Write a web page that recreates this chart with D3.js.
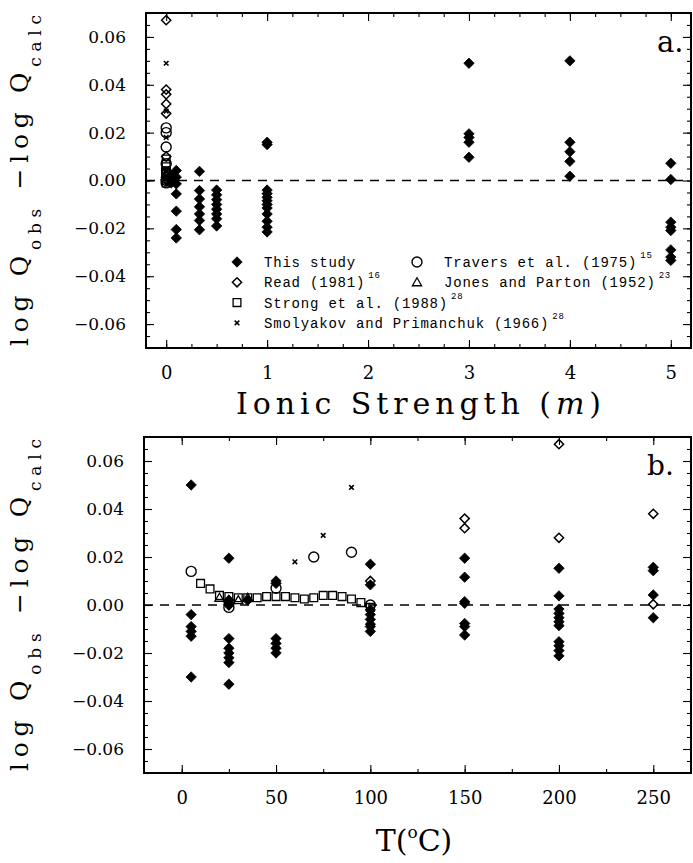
<!DOCTYPE html>
<html>
<head>
<meta charset="utf-8">
<script src="https://cdn.jsdelivr.net/npm/d3@7"></script>
<style>
  body { margin: 0; background: #fff; }
  text { fill: #000; }
</style>
</head>
<body>
<svg id="svgChart" width="693" height="863"></svg>
<script>
/*** Data ***/

// This study, panel a: ionic strength levels (m) and their residuals
const ionicLevels = [0.05, 0.1, 0.33, 0.5, 1, 3, 4, 5];
const ionicResiduals = [
  [0.002, 0.0, -0.001],
  [0.0042, 0.0014, -0.0014, -0.0056, -0.0128, -0.0205, -0.024],
  [0.0038, -0.0042, -0.0077, -0.011, -0.014, -0.0167, -0.0206],
  [-0.004, -0.006, -0.008, -0.010, -0.012, -0.014, -0.016, -0.019],
  [0.016, 0.015, -0.004, -0.0055, -0.007, -0.0085, -0.010, -0.0115, -0.014, -0.017, -0.0195, -0.0215],
  [0.049, 0.0195, 0.018, 0.016, 0.0097],
  [0.050, 0.016, 0.012, 0.008, 0.0018],
  [0.0072, 0.0004, -0.0174, -0.0195, -0.0209, -0.029, -0.032, -0.0334]
];

// This study, panel b: temperatures (C) and their residuals
const tempLevels = [5, 25, 35, 50, 100, 150, 200, 250];
const tempResiduals = [
  [0.050, -0.004, -0.009, -0.011, -0.013, -0.030],
  [0.0195, 0.002, 0.001, 0.0, -0.014, -0.018, -0.020, -0.022, -0.024, -0.033],
  [0.002],
  [0.010, 0.009, -0.014, -0.016, -0.018, -0.020],
  [0.017, 0.0084, -0.002, -0.004, -0.006, -0.008, -0.009, -0.011],
  [0.0195, 0.0116, 0.0014, 0.0007, -0.0077, -0.009, -0.0125],
  [0.0153, 0.0038, -0.0017, -0.0035, -0.0053, -0.007, -0.0086, -0.0153, -0.017, -0.019, -0.0212],
  [0.0157, 0.0143, 0.0042, -0.0053]
];

// Literature data (low ionic strength, so at m = 0 in panel a)
const readT = [25, 100, 150, 150, 200, 200, 250, 250];
const readRes = [0.0, 0.010, 0.036, 0.032, 0.067, 0.028, 0.038, 0.0003];
const traversT = [5, 25, 50, 70, 90, 100];
const traversRes = [0.014, -0.001, 0.007, 0.020, 0.022, 0.0];
const jonesT = [20, 25, 30, 35];
const jonesRes = [0.003, 0.002, 0.002, 0.003];
const strongT = [10, 15, 20, 25, 30, 35, 40, 45, 50, 55, 60, 65, 70, 75, 80, 85, 90, 95, 100];
const strongRes = [0.009, 0.0067, 0.004, 0.0035, 0.003, 0.003, 0.003, 0.0035, 0.0035, 0.0035,
  0.003, 0.0025, 0.003, 0.004, 0.004, 0.0035, 0.0025, 0.001, -0.001];
const smolT = [60, 75, 90];
const smolRes = [0.018, 0.029, 0.049];

// Tick values
const yMajor = [-0.06, -0.04, -0.02, 0.0, 0.02, 0.04, 0.06];
const ionicMajor = [0, 1, 2, 3, 4, 5];
const tempMajor = [0, 50, 100, 150, 200, 250];

// Legend entries: [symbol, label, reference]
const legendItems = [
  ["study", "This study", ""],
  ["read", "Read (1981)", "16"],
  ["strong", "Strong et al. (1988)", "28"],
  ["smol", "Smolyakov and Primanchuk (1966)", "28"],
  ["travers", "Travers et al. (1975)", "15"],
  ["jones", "Jones and Parton (1952)", "23"]
];


/*** Function definitions ***/

// Symbol shapes for d3.symbol, the size being the half width in px
const shapes = {
  diamond: { draw(c, r) { c.moveTo(0, -r); c.lineTo(r, 0); c.lineTo(0, r); c.lineTo(-r, 0); c.closePath(); } },
  square: { draw(c, r) { c.rect(-r, -r, 2 * r, 2 * r); } },
  triangle: { draw(c, r) { c.moveTo(0, -r); c.lineTo(r, r * 0.75); c.lineTo(-r, r * 0.75); c.closePath(); } },
  circle: { draw(c, r) { c.moveTo(r, 0); c.arc(0, 0, r, 0, 2 * Math.PI); } },
  cross: { draw(c, r) { c.moveTo(-r, -r); c.lineTo(r, r); c.moveTo(r, -r); c.lineTo(-r, r); } }
};

// Style of each data set
const styles = {
  study: { shape: "diamond", r: 5.2, fill: "#000", sw: 0.8 },
  read: { shape: "diamond", r: 4.6, fill: "none", sw: 1.5 },
  strong: { shape: "square", r: 3.9, fill: "none", sw: 1.3 },
  smol: { shape: "cross", r: 2.3, fill: "none", sw: 1.6 },
  travers: { shape: "circle", r: 5, fill: "none", sw: 1.4 },
  jones: { shape: "triangle", r: 4.6, fill: "none", sw: 1.3 }
};

function symbolPath(key) {
  let s = styles[key];
  return d3.symbol().type(shapes[s.shape]).size(s.r)();
}

// Draw the points of one data set
function drawPoints(g, key, pts, x, y) {
  let s = styles[key];
  g.append("g")
    .selectAll("path")
    .data(pts)
    .join("path")
      .attr("d", symbolPath(key))
      .attr("transform", d => `translate(${x(d[0])}, ${y(d[1])})`)
      .attr("fill", s.fill)
      .attr("stroke", "#000")
      .attr("stroke-width", s.sw);
}

// Flatten grouped levels/residuals into [x, y] pairs
function flatten(levels, residuals) {
  let out = [];
  levels.forEach((lv, i) => residuals[i].forEach(v => out.push([lv, v])));
  return out;
}

function pairs(xs, ys) {
  return xs.map((v, i) => [v, ys[i]]);
}

// Frame with inward ticks on all four sides, labels on left and bottom
function drawAxes(g, x, y, xMajor, xMinorStep, xFormat) {
  let [x0, x1] = x.range();
  let [y0, y1] = y.range();
  let xd = x.domain();
  let xMinor = d3.range(Math.ceil(xd[0] / xMinorStep) * xMinorStep, xd[1] + 1e-9, xMinorStep);
  let yMinor = d3.range(-0.07, 0.0701, 0.005);

  function tickGroup(axis, tr, values, size, fmt, pad) {
    return g.append("g")
      .attr("transform", tr)
      .call(axis.tickValues(values).tickSize(-size).tickPadding(pad).tickFormat(fmt))
      .call(a => a.select(".domain").remove())
      .call(a => a.selectAll("line").attr("stroke", "#000").attr("stroke-width", 1.1));
  }

  // Minor ticks
  tickGroup(d3.axisBottom(x), `translate(0, ${y0})`, xMinor, 4, () => "", 0);
  tickGroup(d3.axisTop(x), `translate(0, ${y1})`, xMinor, 4, () => "", 0);
  tickGroup(d3.axisLeft(y), `translate(${x0}, 0)`, yMinor, 4, () => "", 0);
  tickGroup(d3.axisRight(y), `translate(${x1}, 0)`, yMinor, 4, () => "", 0);

  // Major ticks with labels
  tickGroup(d3.axisBottom(x), `translate(0, ${y0})`, xMajor, 8, xFormat, 18)
    .selectAll("text")
      .attr("font-family", "DejaVu Serif")
      .attr("font-size", 18);
  tickGroup(d3.axisTop(x), `translate(0, ${y1})`, xMajor, 8, () => "", 0);
  tickGroup(d3.axisLeft(y), `translate(${x0}, 0)`, yMajor, 8, d3.format(".2f"), 20)
    .selectAll("text")
      .attr("font-family", "DejaVu Serif")
      .attr("font-size", 17);
  tickGroup(d3.axisRight(y), `translate(${x1}, 0)`, yMajor, 8, () => "", 0);

  // Dashed zero line
  g.append("line")
    .attr("x1", x0).attr("x2", x1)
    .attr("y1", y(0)).attr("y2", y(0))
    .attr("stroke", "#000")
    .attr("stroke-width", 1.3)
    .attr("stroke-dasharray", "9,7");

  // Frame
  g.append("rect")
    .attr("x", x0).attr("y", y1)
    .attr("width", x1 - x0).attr("height", y0 - y1)
    .attr("fill", "none")
    .attr("stroke", "#000")
    .attr("stroke-width", 2);
}

// Rotated y label: log Q_obs − log Q_calc
function drawYLabel(g, y) {
  let [b, t] = y.range();
  let lab = g.append("text")
    .attr("transform", `translate(28, ${(b + t) / 2}) rotate(-90)`)
    .attr("text-anchor", "middle")
    .attr("font-family", "DejaVu Serif")
    .attr("font-size", 25)
    .attr("textLength", b - t - 4)
    .attr("lengthAdjust", "spacing");
  lab.append("tspan").text("log Q");
  lab.append("tspan").attr("font-size", 17).attr("dy", 13).text("obs");
  lab.append("tspan").attr("dy", -13).text(" \u2212log Q");
  lab.append("tspan").attr("font-size", 17).attr("dy", 13).text("calc");
}


/*** Operations ***/

let svg = d3.select("#svgChart");

// Scales
let xA = d3.scaleLinear([-0.2, 5.2], [146, 691]);
let yA = d3.scaleLinear([-0.07, 0.07], [348, 13]);
let xB = d3.scaleLinear([-20, 270], [144, 691]);
let yB = d3.scaleLinear([-0.07, 0.07], [773, 437]);

// Panel a
let gA = svg.append("g");
drawAxes(gA, xA, yA, ionicMajor, 0.25, d3.format("d"));
drawYLabel(gA, yA);
let atZero = ts => ts.map(() => 0);
drawPoints(gA, "strong", pairs(atZero(strongT), strongRes), xA, yA);
drawPoints(gA, "jones", pairs(atZero(jonesT), jonesRes), xA, yA);
drawPoints(gA, "travers", pairs(atZero(traversT), traversRes), xA, yA);
drawPoints(gA, "read", pairs(atZero(readT), readRes), xA, yA);
drawPoints(gA, "smol", pairs(atZero(smolT), smolRes), xA, yA);
drawPoints(gA, "study", flatten(ionicLevels, ionicResiduals), xA, yA);

let xLabA = gA.append("text")
  .attr("x", (xA.range()[0] + xA.range()[1]) / 2)
  .attr("y", 414)
  .attr("text-anchor", "middle")
  .attr("font-family", "DejaVu Serif")
  .attr("font-size", 30)
  .attr("textLength", 365)
  .attr("lengthAdjust", "spacing");
xLabA.append("tspan").text("Ionic Strength (");
xLabA.append("tspan").attr("font-style", "italic").text("m");
xLabA.append("tspan").text(")");

gA.append("text")
  .attr("x", 657).attr("y", 52)
  .attr("font-family", "DejaVu Serif")
  .attr("font-size", 29)
  .text("a.");

// Legend
let leg = gA.append("g")
  .attr("font-family", "Liberation Mono")
  .attr("font-size", 14);
legendItems.forEach(([key, label, ref], i) => {
  let col = i < 4 ? 0 : 1;
  let row = i < 4 ? i : i - 4;
  let sx = col ? 417 : 237;
  let sy = 262 + row * 20.3;
  leg.append("path")
    .attr("d", symbolPath(key))
    .attr("transform", `translate(${sx}, ${sy})`)
    .attr("fill", styles[key].fill)
    .attr("stroke", "#000")
    .attr("stroke-width", styles[key].sw);
  let t = leg.append("text")
    .attr("x", sx + 27)
    .attr("y", sy + 5)
    .attr("letter-spacing", 0.8);
  t.append("tspan").text(label);
  if (ref) t.append("tspan").attr("font-size", 9).attr("dy", -9).attr("dx", 3).text(ref);
});

// Panel b
let gB = svg.append("g");
drawAxes(gB, xB, yB, tempMajor, 25, d3.format("d"));
drawYLabel(gB, yB);
drawPoints(gB, "strong", pairs(strongT, strongRes), xB, yB);
drawPoints(gB, "jones", pairs(jonesT, jonesRes), xB, yB);
drawPoints(gB, "travers", pairs(traversT, traversRes), xB, yB);
drawPoints(gB, "read", pairs(readT, readRes), xB, yB);
drawPoints(gB, "smol", pairs(smolT, smolRes), xB, yB);
drawPoints(gB, "study", flatten(tempLevels, tempResiduals), xB, yB);

let xLabB = gB.append("text")
  .attr("x", 414)
  .attr("y", 851)
  .attr("text-anchor", "middle")
  .attr("font-family", "DejaVu Serif")
  .attr("font-size", 30);
xLabB.append("tspan").text("T(");
xLabB.append("tspan").attr("font-size", 17).attr("dy", -13).text("o");
xLabB.append("tspan").attr("dy", 13).text("C)");

gB.append("text")
  .attr("x", 647).attr("y", 475)
  .attr("font-family", "DejaVu Serif")
  .attr("font-size", 28)
  .text("b.");
</script>
</body>
</html>
